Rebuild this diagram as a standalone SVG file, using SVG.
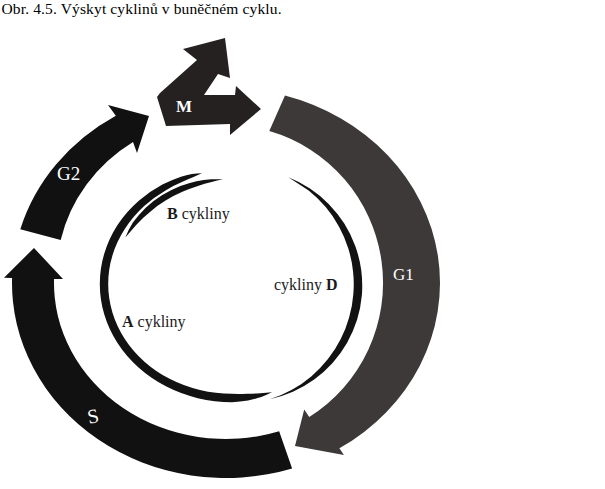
<svg xmlns="http://www.w3.org/2000/svg" width="605" height="489" viewBox="0 0 605 489">
<style>
.blk{fill:#111111}
.gray{fill:#3e3939}
.mfill{fill:#262121}
.ring{fill:#121212}
.wl{fill:#ffffff;font-family:"Liberation Serif","Times New Roman",serif}
.tl{fill:#1a1a1a;font-family:"Liberation Serif","Times New Roman",serif;font-size:16px}
.b{font-weight:bold}
</style>
<rect width="605" height="489" fill="#ffffff"/>
<text x="1.5" y="14" font-family="'Liberation Serif','Times New Roman',serif" font-size="15.5" fill="#000" textLength="280" lengthAdjust="spacing">Obr. 4.5. Výskyt cyklinů v buněčném cyklu.</text>

<g id="phase-G1">
<path class="gray" d="M284.98,95.55 A214,195 0 0 1 339.4,448.36 L343.9,455 L295,446 L304.2,409.5 L309.2,417 A157,158 0 0 0 269.3,131.1 Z"/>
<text class="wl" x="393" y="280" font-size="17" fill="#f0f0f0">G1</text>
</g>

<g id="phase-S">
<path class="blk" d="M292.13,468.46 A214,195 0 0 1 12.07,277.9 L4,277.7 L34,248 L63,279 L54.06,278.92 A172,156 0 0 0 279.15,431.37 Z"/>
<text class="wl" x="0" y="0" font-size="20" transform="translate(89,424) rotate(-12)">S</text>
</g>

<g id="phase-G2">
<path class="blk" d="M20.3,229.3 A214,195 0 0 1 115.8,115.8 L108,105 L149,116 L137,153 L133,142 A170,158 0 0 0 60.7,240 Z"/>
<text class="wl" x="57" y="180" font-size="19">G2</text>
</g>

<g id="phase-M">
<path class="mfill" d="M160,93 L197,60 L183,49 L225,38 L230,78 L218,74 L204,95 L235,95 L236,86 L261,109 L230,135 L230,124 L166,126 L157,97 Z"/>
<text class="wl b" x="176" y="112" font-size="17">M</text>
</g>

<g id="cyclins-A">
<path class="ring" d="M272,392.3 A132,118 0 0 1 261.25,397.03 A132,118 0 0 1 248.03,400.62 A132,118 0 0 1 232,402.2 A132,118 0 0 1 197.79,398.17 A132,118 0 0 1 165.9,386.36 A132,118 0 0 1 138.52,367.58 A132,118 0 0 1 117.51,343.1 A132,118 0 0 1 104.31,314.59 A132,118 0 0 1 99.8,284 A132,118 0 0 1 104.31,253.41 A132,118 0 0 1 117.51,224.9 A132,118 0 0 1 138.8,200.7 A132,118 0 0 1 162.42,184.53 A132,118 0 0 1 180.98,176.67 A132,118 0 0 1 191.92,173.96 A132,118 0 0 1 201.91,173.19 A124,110 0 0 0 192.97,177.19 A124,110 0 0 0 183.01,181.46 A124,110 0 0 0 165.92,190.13 A124,110 0 0 0 144.18,206.08 A124,110 0 0 0 124.79,229.1 A124,110 0 0 0 112.42,255.58 A124,110 0 0 0 108.2,284 A124,110 0 0 0 112.42,312.42 A124,110 0 0 0 124.79,338.9 A124,110 0 0 0 144.46,361.64 A124,110 0 0 0 170.1,379.09 A124,110 0 0 0 199.96,390.06 A124,110 0 0 0 232,393.8 A124,110 0 0 0 247.18,393.67 A124,110 0 0 0 260.35,393.13 Z"/>
<text class="tl" x="122" y="327"><tspan class="b">A</tspan> cykliny</text>
</g>

<g id="cyclins-B">
<path class="ring" d="M125.32,237.47 A121,107 0 0 1 132.88,222.62 A121,107 0 0 1 145.73,207.63 A121,107 0 0 1 161.91,195.36 A121,107 0 0 1 180.44,186.12 A121,107 0 0 1 196.5,181.29 A121,107 0 0 1 211.12,179.32 A121,107 0 0 1 223.08,179.29 A116,102 0 0 0 211.57,181.88 A116,102 0 0 0 197.91,185.88 A116,102 0 0 0 182.98,191.56 A116,102 0 0 0 165.58,200.61 A116,102 0 0 0 149.98,211.88 A116,102 0 0 0 136.15,224.92 Z"/>
<text class="tl" x="167" y="218.5"><tspan class="b">B</tspan> cykliny</text>
</g>

<g id="cyclins-D">
<path class="ring" d="M288.37,177.37 A122,122 0 0 1 309.97,188.6 A122,122 0 0 1 328.89,204.16 A122,122 0 0 1 344.29,223.57 A122,122 0 0 1 355.27,245.91 A122,122 0 0 1 361.25,270.17 A122,122 0 0 1 361.87,295.24 A122,122 0 0 1 357.08,319.84 A122,122 0 0 1 347.14,342.77 A122,122 0 0 1 332.58,362.97 A122,122 0 0 1 314.18,379.52 A122,122 0 0 1 292.91,391.71 A122,122 0 0 1 269.75,399.19 A114,114 0 0 0 291.92,389.72 A114,114 0 0 0 311.53,376.14 A114,114 0 0 0 327.93,359.06 A114,114 0 0 0 340.59,339.24 A114,114 0 0 0 349.12,317.47 A114,114 0 0 0 353.3,294.52 A114,114 0 0 0 353.01,271.18 A114,114 0 0 0 348.22,248.31 A114,114 0 0 0 339.05,226.66 A114,114 0 0 0 325.71,207.06 A114,114 0 0 0 308.66,190.4 Z"/>
<text class="tl" x="274" y="290">cykliny <tspan class="b">D</tspan></text>
</g>
</svg>
